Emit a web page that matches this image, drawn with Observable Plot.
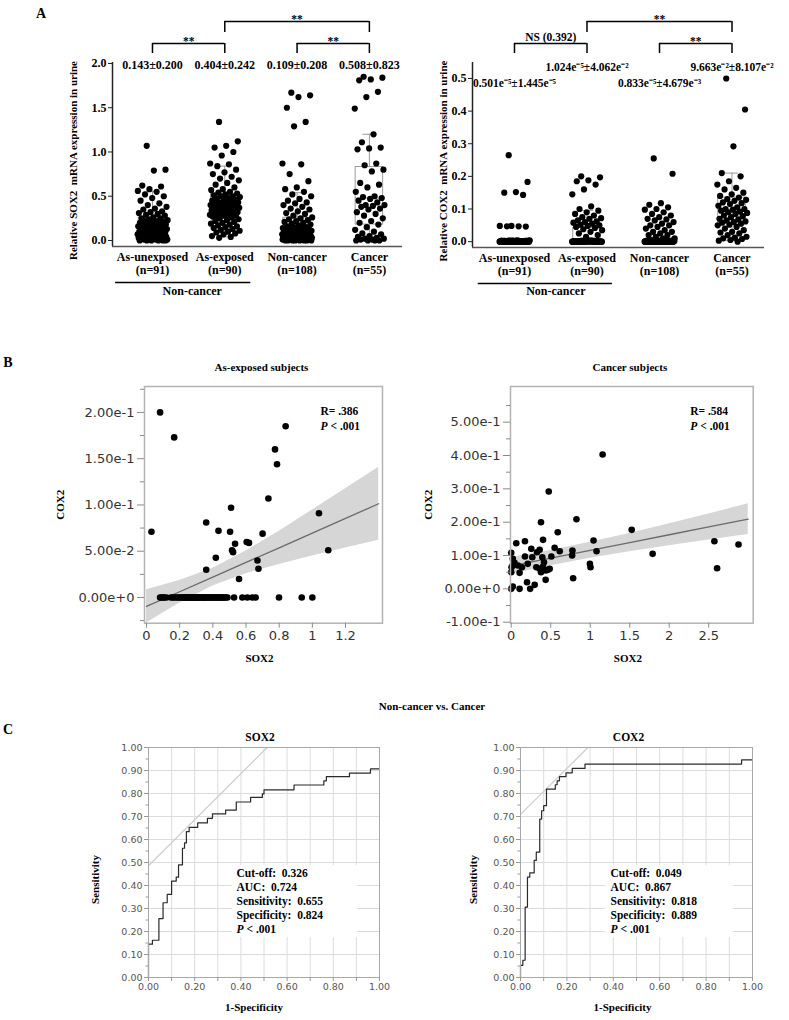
<!DOCTYPE html>
<html><head><meta charset="utf-8">
<script src="https://cdn.jsdelivr.net/npm/d3@7"></script>
<script src="https://cdn.jsdelivr.net/npm/@observablehq/plot@0.6"></script>
<style>
body{margin:0;background:#fff;}
#fig{position:relative;width:789px;height:1020px;overflow:hidden;background:#fff;}
#fig svg{position:absolute;}
.lbl{position:absolute;font-family:"Liberation Serif","Times New Roman",serif;font-weight:bold;color:#000;white-space:nowrap;transform:translate(-50%,-50%);line-height:1;}
</style></head><body><div id="fig"></div>
<script>
// ---------- Panel A data ----------
const groups = ["As-unexposed", "As-exposed", "Non-cancer", "Cancer"];
const groupN = ["(n=91)", "(n=90)", "(n=108)", "(n=55)"];

const sox2Unexposed = [1.07,0.80,0.79,0.62,0.61,0.58,0.56,0.55,0.52,0.50,0.48,0.45,0.42,0.40,0.38,0.36,0.35,0.33,0.32,0.31,0.30,0.29,0.28,
0.26,0.25,0.25,0.24,0.23,0.22,0.22,0.21,0.20,0.20,0.19,0.19,0.18,0.18,0.17,0.17,0.16,0.16,0.16,0.15,0.15,0.15,
0.14,0.14,0.13,0.13,0.12,0.12,0.11,0.11,0.10,0.10,0.09,0.09,0.08,0.08,0.08,0.07,0.07,0.07,0.06,0.06,0.05,0.05,0.05,
0.04,0.04,0.04,0.03,0.03,0.03,0.03,0.02,0.02,0.02,0.02,0.02,0.01,0.01,0.01,0.01,0.01,0.00,0.00,0.00,0.00,0.00,0.00];
const sox2Exposed = [1.34,1.12,1.07,1.05,1.00,0.96,0.87,0.86,0.84,0.80,0.77,0.75,0.72,0.70,0.68,0.65,0.63,0.60,0.58,0.57,0.55,0.54,0.53,
0.52,0.51,0.50,0.50,0.49,0.48,0.47,0.46,0.46,0.45,0.44,0.43,0.43,0.42,0.42,0.41,0.41,0.40,0.40,0.40,
0.39,0.39,0.38,0.38,0.37,0.37,0.36,0.36,0.35,0.35,0.34,0.33,0.33,0.32,0.31,0.31,0.30,0.30,0.29,0.29,0.28,0.28,0.28,
0.27,0.26,0.25,0.24,0.23,0.22,0.21,0.20,0.19,0.18,0.17,0.16,0.15,0.14,0.13,0.12,0.11,0.10,0.09,0.08,0.07,0.05,0.04,0.03];
const sox2NonCancer = [1.67,1.64,1.62,1.50,1.34,1.29,0.87,0.86,0.75,0.67,0.60,0.58,0.55,0.52,0.50,0.47,0.45,0.43,0.42,0.40,0.38,0.36,0.35,0.33,0.31,0.30,0.28,
0.26,0.25,0.24,0.23,0.22,0.21,0.20,0.19,0.18,0.17,0.16,0.15,0.15,0.14,0.14,0.13,0.13,0.12,0.12,0.12,0.11,0.11,0.11,0.10,0.10,0.10,0.10,
0.09,0.09,0.09,0.08,0.08,0.08,0.08,0.07,0.07,0.07,0.07,0.06,0.06,0.06,0.06,0.05,0.05,0.05,0.05,0.05,0.04,0.04,0.04,0.04,0.04,0.04,
0.03,0.03,0.03,0.03,0.03,0.03,0.02,0.02,0.02,0.02,0.02,0.02,0.02,0.01,0.01,0.01,0.01,0.01,0.01,0.01,0.00,0.00,0.00,0.00,0.00,0.00,0.00,0.00];
const sox2Cancer = [1.85,1.84,1.82,1.81,1.68,1.62,1.49,1.20,1.11,1.05,1.04,1.03,0.87,0.85,0.80,0.78,0.65,0.63,0.60,0.55,0.50,0.49,0.48,0.47,0.45,0.43,
0.40,0.40,0.39,0.38,0.36,0.35,0.32,0.30,0.28,0.25,0.22,0.20,0.18,0.15,0.12,0.10,0.08,0.07,0.05,0.04,0.03,0.02,0.02,0.01,0.01,0.00,0.00,0.00,0.00];

const sox2Q1 = [0.04, 0.275, 0.04, 0.18];
const sox2Median = [0.15, 0.39, 0.10, 0.48];
const sox2Q3 = [0.257, 0.53, 0.257, 0.83];
const sox2WhiskerLo = [0.0, 0.04, 0.0, 0.0];
const sox2WhiskerHi = [0.555, 0.84, 0.54, 1.2];
const sox2MeanSD = ["0.143±0.200", "0.404±0.242", "0.109±0.208", "0.508±0.823"];

const cox2Unexposed = [0.265,0.183,0.152,0.150,0.143,0.048,0.048,0.047,0.047,0.046,
0,0,0.001,0,0.002,0,0.001,0,0.003,
0,0.001,0,0.002,0,0,0.001,0,0.004,
0,0,0.002,0.001,0,0,0.003,0,0.001,
0.002,0,0,0.001,0,0.002,0,0,0.001,
0,0.003,0,0,0.001,0,0.002,0,0,
0.001,0,0,0.002,0,0.001,0,0.003,0,
0,0.002,0,0.001,0,0,0.004,0,0.001,
0,0,0.001,0,0.002,0,0,0.001,0,
0.002,0,0,0.001,0,0.003,0,0,0.001];
const cox2Exposed = [0.200,0.197,0.188,0.185,0.175,0.160,0.145,0.108,0.100,0.095,0.090,0.085,0.080,0.075,0.072,0.070,0.065,0.062,0.060,0.058,0.055,0.052,0.050,0.048,0.045,0.042,0.038,0.035,0.030,0.025,0.020,0.015,
0,0.001,0,0,0.002,0,0.001,0,0,0.003,
0,0,0.001,0,0.002,0,0,0.001,0,0,
0.002,0,0,0.001,0,0.004,0,0,0.001,0,
0,0.001,0,0.002,0,0,0.003,0,0.001,0,
0.001,0,0,0.002,0,0.001,0,0,0.002,0,
0,0.003,0,0.001,0,0,0.002,0];
const cox2NonCancer = [0.255,0.208,0.118,0.113,0.105,0.100,0.098,0.090,0.085,0.080,0.075,0.070,0.068,0.065,0.060,0.055,0.050,0.050,0.045,0.040,0.035,0.030,0.030,0.025,0.020,0.020,0.015,0.010,0.010,0.005,
0,0.001,0,0.002,0,0,0.001,0,0.003,0,
0.001,0,0,0.002,0,0.001,0,0,0.004,0,
0,0.002,0,0.001,0,0,0.003,0,0.001,0,
0.002,0,0.001,0,0,0.002,0,0.001,0,0,
0,0.001,0,0.003,0,0.001,0,0.002,0,0,
0.001,0,0.002,0,0,0.001,0,0.003,0,0.001,
0,0,0.002,0,0.001,0,0,0.002,0,0.001,
0,0.003,0,0.001,0,0.002,0,0];
const cox2Cancer = [0.50,0.405,0.292,0.21,0.20,0.185,0.175,0.165,0.16,0.15,0.145,0.14,0.135,0.13,0.128,0.125,0.12,0.118,0.115,0.11,
0.105,0.10,0.10,0.098,0.095,0.092,0.09,0.088,0.085,0.08,0.078,0.075,0.07,0.068,0.065,0.062,0.06,0.058,0.055,0.052,
0.05,0.045,0.04,0.035,0.03,0.028,0.025,0.02,0.015,0.012,0.01,0.008,0.005,0.003,0.0];

const cox2Q1 = [0.0, 0.0, 0.0, 0.055];
const cox2Median = [0.0, 0.0, 0.0, 0.095];
const cox2Q3 = [0.002, 0.042, 0.006, 0.135];
const cox2WhiskerLo = [0.0, 0.0, 0.0, 0.003];
const cox2WhiskerHi = [0.004, 0.095, 0.012, 0.21];
const cox2MeanSD = ["0.501e\u207B\u2075±1.445e\u207B\u2075", "1.024e\u207B\u2075±4.062e\u207B\u00B2", "0.833e\u207B\u2075±4.679e\u207B\u00B3", "9.663e\u207B\u00B2±8.107e\u207B\u00B2"];

// ---------- Panel B data ----------
const asExpSox2 = [0.03,0.082,0.167,0.36,0.36,0.418,0.434,0.504,0.51,0.516,0.522,0.534,0.558,0.604,0.618,0.669,0.675,0.70,0.735,0.775,0.787,0.839,1.04,1.096,
0.082,0.106,0.147,0.167,0.181,0.217,0.237,0.257,0.277,0.297,0.317,0.337,0.357,0.378,0.398,0.418,0.438,0.458,0.478,0.488,0.528,0.578,0.608,0.638,0.658,0.799,0.936,1.0,
0.09,0.12,0.16,0.22,0.24,0.26,0.28,0.30,0.31,0.33,0.35,0.37,0.39,0.41,0.43,0.45,0.47,0.10,0.20,0.25,0.29,0.32,0.34,0.38,0.44,0.46,0.36,0.27,0.23,0.21,0.19,0.42,0.40,0.35,0.31,0.28,0.26,0.24];
const asExpCox2 = [0.071,0.200,0.173,0.081,0.030,0.043,0.072,0.071,0.097,0.051,0.049,0.058,0.020,0.060,0.059,0.040,0.031,0.069,0.107,0.160,0.144,0.185,0.091,0.051,
0,0,0,0,0,0,0,0,0,0,0,0,0,0,0,0,0,0,0,0,0,0,0,0,0,0,0,0,
0,0,0,0,0,0,0,0,0,0,0,0,0,0,0,0,0,0,0,0,0,0,0,0,0,0,0,0,0,0,0,0,0,0,0,0,0,0];
const asExpBandX = [0, 0.2, 0.4, 0.6, 0.8, 1.0, 1.2, 1.4];
const asExpFit = [-0.0097, 0.0062, 0.0220, 0.0379, 0.0537, 0.0696, 0.0855, 0.1013];
const asExpLo = [-0.0277, -0.0060, 0.0125, 0.0257, 0.0357, 0.0448, 0.0535, 0.0619];
const asExpHi = [0.0083, 0.0184, 0.0315, 0.0501, 0.0717, 0.0944, 0.1175, 0.1407];

const canSox2 = [1.157,0.475,0.826,0.377,0.589,1.525,0.064,0.174,0.403,1.042,2.572,2.877,0.0,0.254,0.36,0.614,0.775,1.08,1.79,0.174,
0.394,0.508,0.771,0.042,0.02,0.136,0.318,0.36,0.403,0.436,0.466,0.996,1.004,2.606,0.0,0.106,0.377,0.784,0.436,0.2,
0.297,0.02,0.0,0.106,0.24,0.004,0.085,0.326,0.38,0.415,0.267,0.55,0.02,0.21,0.487];
const canCox2 = [0.403,0.292,0.209,0.200,0.170,0.177,0.137,0.143,0.147,0.145,0.143,0.133,0.108,0.12,0.117,0.113,0.115,0.113,0.105,0.097,
0.095,0.097,0.100,0.078,0.07,0.065,0.065,0.06,0.067,0.055,0.057,0.075,0.065,0.062,0.05,0.048,0.05,0.032,0.027,0.02,
0.012,0.007,0.0,0.0,0.0,0.065,0.070,0.110,0.058,0.080,0.095,0.123,0.09,0.075,0.06];
const canBandX = [0, 0.5, 1.0, 1.5, 2.0, 2.5, 3.0];
const canFit = [0.069, 0.0923, 0.1157, 0.139, 0.1623, 0.1857, 0.209];
const canLo = [0.044, 0.0693, 0.0918, 0.1116, 0.1296, 0.1467, 0.163];
const canHi = [0.094, 0.1153, 0.1396, 0.1664, 0.195, 0.2247, 0.255];

// ---------- Panel C data ----------
const rocSox2Fpr = [0, 0, 0.017, 0.045, 0.063, 0.081, 0.10, 0.12, 0.13, 0.147, 0.156, 0.164, 0.176, 0.213, 0.255, 0.277, 0.334, 0.38, 0.442, 0.493, 0.50, 0.63, 0.759, 0.77, 0.87, 0.961, 1.0];
const rocSox2Tpr = [0, 0.145, 0.162, 0.256, 0.325, 0.361, 0.419, 0.436, 0.49, 0.562, 0.585, 0.634, 0.653, 0.672, 0.692, 0.711, 0.728, 0.763, 0.783, 0.798, 0.816, 0.837, 0.855, 0.873, 0.889, 0.907, 0.907];
const rocCox2Fpr = [0, 0, 0.01, 0.02, 0.03, 0.04, 0.059, 0.068, 0.083, 0.091, 0.10, 0.112, 0.15, 0.158, 0.168, 0.196, 0.223, 0.278, 0.953, 1.0];
const rocCox2Tpr = [0, 0.053, 0.075, 0.306, 0.436, 0.455, 0.509, 0.545, 0.689, 0.725, 0.747, 0.819, 0.838, 0.855, 0.873, 0.89, 0.909, 0.928, 0.946, 0.946];
const youdenSox2X = [0, 0.514], youdenSox2Y = [0.486, 1.0];
const youdenCox2X = [0, 0.291], youdenCox2Y = [0.709, 1.0];
const statsSox2 = ["Cut-off:  0.326", "AUC:  0.724", "Sensitivity:  0.655", "Specificity:  0.824"];
const statsCox2 = ["Cut-off:  0.049", "AUC:  0.867", "Sensitivity:  0.818", "Specificity:  0.889"];

// ---------- helpers ----------
const SERIF = "Liberation Serif, Times New Roman, serif";
const SANS = "DejaVu Sans, Verdana, sans-serif";
const bold = {fontFamily: SERIF, fontWeight: "bold", fill: "#000"};
const jitter = k => ((k * 0.6180339887 + 0.31) % 1) - 0.5;
const fig = document.getElementById("fig");
function place(svg, left, top) { svg.style.left = left + "px"; svg.style.top = top + "px"; fig.appendChild(svg); }
function label(text, x, y, size, extra) {
  const d = document.createElement("div"); d.className = "lbl"; d.textContent = text;
  d.style.left = x + "px"; d.style.top = y + "px"; d.style.fontSize = size + "px";
  if (extra) Object.assign(d.style, extra);
  fig.appendChild(d);
}

function stripPanel(o) {
  const ys = d3.scaleLinear(o.yDomain, [o.height - o.mb, o.mt]);
  const yAt = px => ys.invert(px);
  const stats = groups.map((g, i) => ({i, q1: o.q1[i], med: o.med[i], q3: o.q3[i], lo: o.wlo[i], hi: o.whi[i]}));
  const points = o.values.flatMap((vals, g) => vals.map((v, k) => ({g, v, j: jitter(k)})));
  const means = o.means.map((t, i) => ({i, t, py: o.meanPx[i]}));
  const br = o.brackets;
  const gray = "#9a9a9a";
  return Plot.plot({
    width: o.width, height: o.height,
    marginLeft: o.ml, marginRight: o.mr, marginTop: o.mt, marginBottom: o.mb,
    x: {domain: o.xDomain}, y: {domain: o.yDomain},
    style: {background: "transparent", overflow: "visible"},
    marks: [
      Plot.rect(stats, {x1: d => d.i - 0.19, x2: d => d.i + 0.19, y1: "q1", y2: "q3", fill: "none", stroke: gray}),
      Plot.ruleY(stats, {y: "med", x1: d => d.i - 0.19, x2: d => d.i + 0.19, stroke: gray}),
      Plot.ruleX(stats, {x: "i", y1: "q3", y2: "hi", stroke: gray}),
      Plot.ruleX(stats, {x: "i", y1: "lo", y2: "q1", stroke: gray}),
      Plot.ruleY(stats, {y: "hi", x1: d => d.i - 0.09, x2: d => d.i + 0.09, stroke: gray}),
      Plot.ruleY(stats, {y: "lo", x1: d => d.i - 0.09, x2: d => d.i + 0.09, stroke: gray}),
      Plot.dot(points, {x: d => d.g + d.j * 0.42, y: "v", r: 3.1, fill: "#000"}),
      Plot.ruleX([o.xDomain[0]], {stroke: "#222", strokeWidth: 1.5}),
      Plot.ruleY([o.yDomain[0]], {stroke: "#555", strokeWidth: 1.5}),
      Plot.axisY(o.yTicks, {tickSize: 4, tickPadding: 2, tickFormat: d3.format(".1f"), fontSize: 12, ...bold, stroke: "#222", label: null}),
      Plot.axisX(groups.map((g, i) => i), {tickSize: 0, tickPadding: 5, tickFormat: i => groups[i] + "\n" + groupN[i], fontSize: 12, lineHeight: 1.1, ...bold, label: null}),
      Plot.text(means, {x: "i", y: d => yAt(d.py), text: "t", fontSize: o.meanSize, ...bold}),
      Plot.ruleY(br, {y: d => yAt(d.px), x1: "a", x2: "b", stroke: "#000", strokeWidth: 1.5}),
      Plot.ruleX(br, {x: "a", y1: d => yAt(d.px), y2: d => yAt(d.tick), stroke: "#000", strokeWidth: 1.5}),
      Plot.ruleX(br, {x: "b", y1: d => yAt(d.px), y2: d => yAt(d.tick), stroke: "#000", strokeWidth: 1.5}),
      Plot.text(br, {x: d => (d.a + d.b) / 2, y: d => yAt(d.lpx), text: "label", fontSize: 11.5, ...bold}),
      Plot.ruleY([yAt(o.under.px)], {x1: o.under.x1, x2: o.under.x2, stroke: "#000", strokeWidth: 1.3}),
      Plot.text([o.under.text], {x: o.under.tx, y: yAt(o.under.tpx), fontSize: 12, ...bold}),
      Plot.text([o.yTitle], {frameAnchor: "left", textAnchor: "middle", dx: o.titleDx, dy: 6, rotate: -90, fontSize: 11, ...bold})
    ]
  });
}

function scatterPanel(o) {
  const pts = o.xs.map((x, i) => ({x, y: o.ys[i]}));
  const band = o.bandX.map((x, i) => ({x, fit: o.fit[i], lo: o.lo[i], hi: o.hi[i]}));
  const sci = d => d3.format(".2e")(d).replace("\u2212", "-");
  const tickText = {fontFamily: SANS, fontSize: 13, fill: "#333", stroke: "#8a8a8a", label: null};
  return Plot.plot({
    width: o.width, height: o.height,
    marginLeft: o.ml, marginRight: o.mr, marginTop: o.mt, marginBottom: o.mb,
    x: {domain: o.xDomain}, y: {domain: o.yDomain},
    style: {background: "transparent", overflow: "visible"},
    marks: [
      Plot.areaY(band, {x: "x", y1: "lo", y2: "hi", fill: "#d6d6d6"}),
      Plot.line(band, {x: "x", y: "fit", stroke: "#6a6a6a", strokeWidth: 1.3}),
      Plot.dot(pts, {x: "x", y: "y", r: 3.3, fill: "#000"}),
      Plot.frame({stroke: "#b3b3b3", strokeWidth: 1.5}),
      Plot.axisY(o.yTicks, {tickSize: 7, tickPadding: 3, tickFormat: sci, ...tickText}),
      Plot.axisY(o.yMinor, {tickSize: 4, tickFormat: () => "", ...tickText}),
      Plot.axisX(o.xTicks, {tickSize: 5, tickPadding: 3, tickFormat: d => String(d), ...tickText}),
      Plot.text([o.title], {frameAnchor: "top", dx: -2, dy: -23, fontSize: 11, ...bold}),
      Plot.text(["SOX2"], {frameAnchor: "bottom", dx: -4, dy: 39, fontSize: 11, ...bold}),
      Plot.text(["COX2"], {frameAnchor: "left", textAnchor: "middle", dx: o.titleDx, rotate: -90, fontSize: 11, ...bold}),
      Plot.text([o.r], {frameAnchor: "top-right", dx: o.rDx, dy: 20, textAnchor: "start", fontSize: 11.5, ...bold}),
      Plot.text(["P"], {frameAnchor: "top-right", dx: o.rDx, dy: 35, textAnchor: "start", fontSize: 11.5, fontStyle: "italic", ...bold}),
      Plot.text(["< .001"], {frameAnchor: "top-right", dx: o.rDx + 10, dy: 35, textAnchor: "start", fontSize: 11.5, ...bold})
    ]
  });
}

function rocPanel(o) {
  const tenths = [0, 0.1, 0.2, 0.3, 0.4, 0.5, 0.6, 0.7, 0.8, 0.9, 1.0];
  const halfTicks = [0.05, 0.15, 0.25, 0.35, 0.45, 0.55, 0.65, 0.75, 0.85, 0.95];
  const roc = o.fpr.map((x, i) => ({x, y: o.tpr[i]}));
  const diag = o.dx.map((x, i) => ({x, y: o.dy[i]}));
  const tickText = {fontFamily: SANS, fontSize: 9.5, fill: "#555", stroke: "#999", label: null};
  const grid = {stroke: "#dcdcdc", strokeOpacity: 1};
  return Plot.plot({
    width: o.width, height: o.height,
    marginLeft: o.ml, marginRight: o.mr, marginTop: o.mt, marginBottom: o.mb,
    x: {domain: [0, 1]}, y: {domain: [0, 1]},
    style: {background: "transparent", overflow: "visible"},
    marks: [
      Plot.gridX(tenths, grid),
      Plot.gridY(tenths, grid),
      Plot.rect([o.box], {x1: "x1", x2: "x2", y1: "y1", y2: "y2", fill: "#fff"}),
      Plot.line(diag, {x: "x", y: "y", stroke: "#cdcdcd", strokeWidth: 1.2}),
      Plot.line(roc, {x: "x", y: "y", curve: "step-after", stroke: "#2a2a2a", strokeWidth: 1.2}),
      Plot.frame({stroke: "#a8a8a8"}),
      Plot.axisY(tenths, {tickSize: 4, tickPadding: 2, tickFormat: d => d.toFixed(2), ...tickText}),
      Plot.axisY(halfTicks, {tickSize: 2.5, tickFormat: () => "", ...tickText}),
      Plot.axisX(tenths, {tickSize: 4, tickPadding: 2, tickFormat: d => (Math.round(d * 10) % 2 === 0 ? d.toFixed(2) : ""), ...tickText}),
      Plot.text([o.title], {frameAnchor: "top", dx: o.titleDx, dy: -15, fontSize: 11.5, ...bold}),
      Plot.text(["1-Specificity"], {frameAnchor: "bottom", dx: o.titleDx - 6, dy: 33, fontSize: 11, ...bold}),
      Plot.text(["Sensitivity"], {frameAnchor: "left", textAnchor: "middle", dx: o.sensDx, dy: 17, rotate: -90, fontSize: 11, ...bold}),
      Plot.text(o.stats, {x: o.textX, y: (d, i) => 0.452 - i * 0.061, textAnchor: "start", fontSize: 11.5, ...bold}),
      Plot.text(["P"], {x: o.textX, y: 0.209, textAnchor: "start", fontSize: 11.5, fontStyle: "italic", ...bold}),
      Plot.text(["< .001"], {x: o.textX, y: 0.209, dx: 10, textAnchor: "start", fontSize: 11.5, ...bold})
    ]
  });
}

// ---------- Panel A ----------
place(stripPanel({
  values: [sox2Unexposed, sox2Exposed, sox2NonCancer, sox2Cancer],
  q1: sox2Q1, med: sox2Median, q3: sox2Q3, wlo: sox2WhiskerLo, whi: sox2WhiskerHi,
  means: sox2MeanSD, meanPx: [65, 65, 65, 65], meanSize: 12,
  width: 405, height: 300, ml: 112, mr: 3, mt: 62, mb: 54,
  xDomain: [-0.553, 3.458], yDomain: [-0.068, 2.011],
  yTicks: [0, 0.5, 1, 1.5, 2],
  brackets: [
    {a: 0, b: 1, px: 43, tick: 53, lpx: 41, label: "**"},
    {a: 2, b: 3, px: 43, tick: 53, lpx: 41, label: "**"},
    {a: 1, b: 3, px: 21, tick: 32, lpx: 19, label: "**"}
  ],
  under: {px: 282, x1: -0.51, x2: 1.36, text: "Non-cancer", tx: 0.55, tpx: 291},
  yTitle: "Relative SOX2  mRNA expression in urine", titleDx: -39
}), 0, 0);

place(stripPanel({
  values: [cox2Unexposed, cox2Exposed, cox2NonCancer, cox2Cancer],
  q1: cox2Q1, med: cox2Median, q3: cox2Q3, wlo: cox2WhiskerLo, whi: cox2WhiskerHi,
  means: cox2MeanSD, meanPx: [83, 67, 83, 67], meanSize: 11.5,
  width: 389, height: 300, ml: 72, mr: 25, mt: 62, mb: 53,
  xDomain: [-0.579, 3.448], yDomain: [-0.018, 0.549],
  yTicks: [0, 0.1, 0.2, 0.3, 0.4, 0.5],
  brackets: [
    {a: 0, b: 1, px: 43, tick: 53, lpx: 37, label: "NS (0.392)"},
    {a: 2, b: 3, px: 43, tick: 53, lpx: 41, label: "**"},
    {a: 1, b: 3, px: 21, tick: 32, lpx: 19, label: "**"}
  ],
  under: {px: 283, x1: -0.5, x2: 1.35, text: "Non-cancer", tx: 0.57, tpx: 291},
  yTitle: "Relative COX2  mRNA expression in urine", titleDx: -29
}), 400, 0);

// ---------- Panel B ----------
place(scatterPanel({
  xs: asExpSox2, ys: asExpCox2, bandX: asExpBandX, fit: asExpFit, lo: asExpLo, hi: asExpHi,
  width: 400, height: 340, ml: 144, mr: 18, mt: 46, mb: 57.3,
  xDomain: [-0.012, 1.423], yDomain: [-0.0278, 0.228],
  yTicks: [0, 0.05, 0.1, 0.15, 0.2], yMinor: [-0.025, 0.025, 0.075, 0.125, 0.175, 0.225],
  xTicks: [0, 0.2, 0.4, 0.6, 0.8, 1, 1.2],
  title: "As-exposed subjects", titleDx: -84, r: "R= .386", rDx: -62
}), 0, 340);

place(scatterPanel({
  xs: canSox2, ys: canCox2, bandX: canBandX, fit: canFit, lo: canLo, hi: canHi,
  width: 389, height: 340, ml: 110, mr: 36.3, mt: 46, mb: 57.3,
  xDomain: [-0.009, 3.063], yDomain: [-0.103, 0.607],
  yTicks: [-0.1, 0, 0.1, 0.2, 0.3, 0.4, 0.5], yMinor: [-0.05, 0.05, 0.15, 0.25, 0.35, 0.45, 0.55],
  xTicks: [0, 0.5, 1, 1.5, 2, 2.5],
  title: "Cancer subjects", titleDx: -82, r: "R= .584", rDx: -63
}), 400, 340);

// ---------- Panel C ----------
place(rocPanel({
  fpr: rocSox2Fpr, tpr: rocSox2Tpr, dx: youdenSox2X, dy: youdenSox2Y, stats: statsSox2,
  width: 400, height: 300, ml: 148, mr: 21, mt: 27, mb: 43,
  box: {x1: 0.363, x2: 0.905, y1: 0.174, y2: 0.487}, textX: 0.381,
  title: "SOX2", titleDx: -4, sensDx: -53
}), 0, 720);

place(rocPanel({
  fpr: rocCox2Fpr, tpr: rocCox2Tpr, dx: youdenCox2X, dy: youdenCox2Y, stats: statsCox2,
  width: 389, height: 300, ml: 120, mr: 37, mt: 27, mb: 43,
  box: {x1: 0.366, x2: 0.918, y1: 0.174, y2: 0.487}, textX: 0.388,
  title: "COX2", titleDx: -8, sensDx: -47
}), 400, 720);

// ---------- panel letters and section title ----------
label("A", 41, 14, 14);
label("B", 8, 363, 14);
label("C", 8, 730, 14);
label("Non-cancer vs. Cancer", 432, 706, 11);
</script></body></html>
